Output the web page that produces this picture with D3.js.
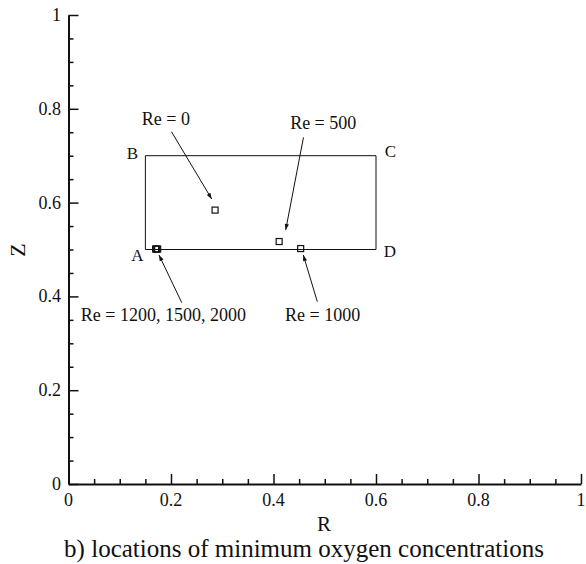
<!DOCTYPE html>
<html>
<head>
<meta charset="utf-8">
<script src="https://cdn.jsdelivr.net/npm/d3@7"></script>
<style>
  html, body { margin: 0; padding: 0; background: #fff; }
</style>
</head>
<body>
<svg id="chart" width="586" height="564" style="font-family: Liberation Serif"></svg>
<script>
// Locations (R, Z) of minimum oxygen concentration for each Reynolds number
const caseNames = ["Re = 0", "Re = 500", "Re = 1000", "Re = 1200", "Re = 1500", "Re = 2000"];
const rValues = [0.286, 0.411, 0.453, 0.170, 0.172, 0.174];
const zValues = [0.584, 0.517, 0.502, 0.501, 0.501, 0.501];

// Domain outline A-B-C-D
const cornerNames = ["A", "B", "C", "D"];
const cornerR = [0.15, 0.15, 0.60, 0.60];
const cornerZ = [0.50, 0.70, 0.70, 0.50];

// Annotation labels: text, label anchor (R, Z), arrow start and arrow tip (R, Z)
const noteTexts = ["Re = 0", "Re = 500", "Re = 1000", "Re = 1200, 1500, 2000"];
const noteR = [0.190, 0.497, 0.496, 0.185];
const noteZ = [0.7655, 0.757, 0.3475, 0.3475];
const arrowFromR = [0.201, 0.4585, 0.4855, 0.221];
const arrowFromZ = [0.751, 0.739, 0.3887, 0.3866];
const arrowToR = [0.2794, 0.4238, 0.4582, 0.1766];
const arrowToZ = [0.6077, 0.5416, 0.4883, 0.4883];

const xTicks = [0, 0.2, 0.4, 0.6, 0.8, 1];
const yTicks = [0, 0.2, 0.4, 0.6, 0.8, 1];
const minorTicks = d3.range(0, 1.0001, 0.05);

const FONT = "Liberation Serif";
const INK = "#111";
const svg = d3.select("#chart");
const x = d3.scaleLinear().domain([0, 1]).range([68.5, 581]);
const y = d3.scaleLinear().domain([0, 1]).range([484, 15]);
const fmt = d => d === 0 || d === 1 ? String(d) : d.toFixed(1);
const isMajor = (v, ticks) => ticks.some(t => Math.abs(t - v) < 1e-9);

// Axes: ticks point inward, majors longer than minors
const axisLayer = svg.append("g");
axisLayer.append("g").attr("transform", `translate(0,${y(0)})`)
  .call(d3.axisTop(x).tickValues(xTicks).tickFormat("").tickSizeInner(10).tickSizeOuter(0));
axisLayer.append("g").attr("transform", `translate(0,${y(0)})`)
  .call(d3.axisTop(x).tickValues(minorTicks.filter(v => !isMajor(v, xTicks)))
    .tickFormat("").tickSizeInner(5).tickSizeOuter(0))
  .select(".domain").remove();
axisLayer.append("g").attr("transform", `translate(${x(0)},0)`)
  .call(d3.axisRight(y).tickValues(yTicks).tickFormat("").tickSizeInner(10).tickSizeOuter(0));
axisLayer.append("g").attr("transform", `translate(${x(0)},0)`)
  .call(d3.axisRight(y).tickValues(minorTicks.filter(v => !isMajor(v, yTicks)))
    .tickFormat("").tickSizeInner(5).tickSizeOuter(0))
  .select(".domain").remove();
axisLayer.selectAll("g").attr("font-family", null).attr("font-size", null);
axisLayer.selectAll(".tick text").remove();
axisLayer.selectAll(".domain").attr("stroke", INK).attr("stroke-width", 2);
axisLayer.selectAll(".tick line").attr("stroke", INK).attr("stroke-width", 1.5);

const serif = (sel, size) => sel.attr("font-family", FONT).style("font-family", FONT)
  .attr("font-size", size).attr("fill", INK);

// Tick labels
svg.append("g").selectAll("text").data(xTicks).join("text")
  .attr("x", d => x(d)).attr("y", 506)
  .attr("text-anchor", "middle").call(serif, 18).text(fmt);
svg.append("g").selectAll("text").data(yTicks).join("text")
  .attr("x", 61).attr("y", d => y(d) + 6)
  .attr("text-anchor", "end").call(serif, 18).text(fmt);

// Axis titles and caption
svg.append("text").attr("x", 324).attr("y", 531).attr("text-anchor", "middle")
  .call(serif, 21).text("R");
svg.append("text").attr("transform", "translate(25,250) rotate(-90)").attr("text-anchor", "middle")
  .call(serif, 22).text("Z");
svg.append("text").attr("x", 304).attr("y", 557).attr("text-anchor", "middle")
  .call(serif, 25).text("b) locations of minimum oxygen concentrations");

// Domain rectangle and corner letters
const outline = cornerR.map((r, i) => [x(r), y(cornerZ[i])]);
svg.append("path").attr("d", d3.line()(outline) + "Z")
  .attr("fill", "none").attr("stroke", INK).attr("stroke-width", 1);
const cornerDx = [-8, -13, 14.5, 14];
const cornerDy = [11, 3.5, 1.5, 7];
svg.append("g").selectAll("text").data(cornerNames).join("text")
  .attr("x", (d, i) => outline[i][0] + cornerDx[i])
  .attr("y", (d, i) => outline[i][1] + cornerDy[i])
  .attr("text-anchor", "middle").call(serif, 17).text(d => d);

// Minimum locations as open squares
svg.append("g").selectAll("rect").data(caseNames).join("rect")
  .attr("x", (d, i) => x(rValues[i]) - 3).attr("y", (d, i) => y(zValues[i]) - 3)
  .attr("width", 6).attr("height", 6)
  .attr("fill", "none").attr("stroke", INK).attr("stroke-width", 1.2);

// Arrows pointing from each label to its location
svg.append("defs").append("marker").attr("id", "head").attr("viewBox", "0 0 10 10")
  .attr("refX", 10).attr("refY", 5).attr("markerWidth", 12).attr("markerHeight", 6)
  .attr("markerUnits", "userSpaceOnUse").attr("orient", "auto")
  .append("path").attr("d", "M0,1.5 L10,5 L0,8.5 Z").attr("fill", INK);
svg.append("g").selectAll("line").data(noteTexts).join("line")
  .attr("x1", (d, i) => x(arrowFromR[i])).attr("y1", (d, i) => y(arrowFromZ[i]))
  .attr("x2", (d, i) => x(arrowToR[i])).attr("y2", (d, i) => y(arrowToZ[i]))
  .attr("stroke", INK).attr("stroke-width", 1).attr("marker-end", "url(#head)");
svg.append("g").selectAll("text").data(noteTexts).join("text")
  .attr("x", (d, i) => x(noteR[i])).attr("y", (d, i) => y(noteZ[i]))
  .attr("text-anchor", "middle").call(serif, 18).text(d => d);
</script>
</body>
</html>
